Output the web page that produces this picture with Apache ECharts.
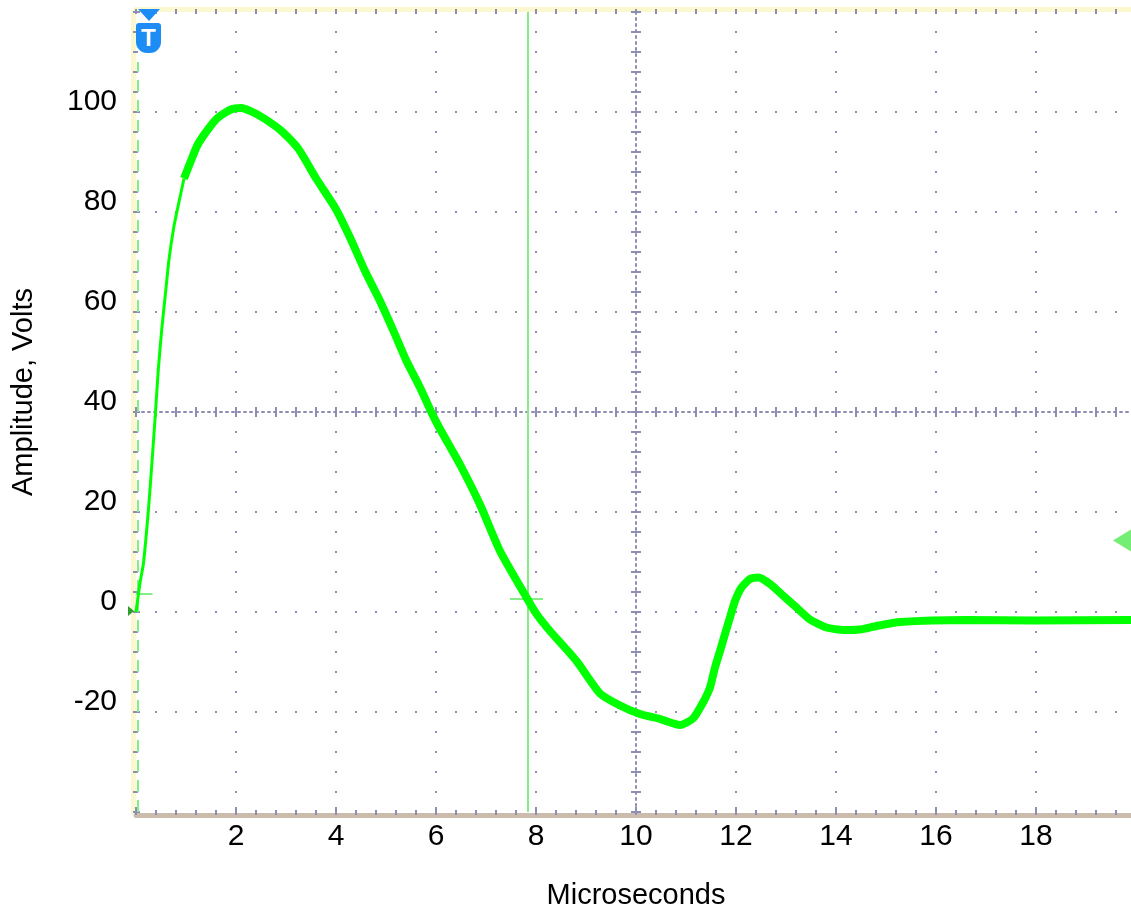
<!DOCTYPE html>
<html>
<head>
<meta charset="utf-8">
<title>Amplitude, Volts</title>
<script src="https://cdn.jsdelivr.net/npm/echarts@6/dist/echarts.min.js"></script>
<style>
    html, body { margin: 0; padding: 0; background: #fff; }
    #main { width: 1131px; height: 912px; }
</style>
</head>
<body>
<div id="main"></div>
<script>
// 上升沿（采样稀疏，线细）
var riseTime = [0, 0.08, 0.15, 0.25, 0.32, 0.39, 0.45, 0.52, 0.59, 0.66, 0.76, 0.86, 0.96];
var riseVolts = [0, 5.8, 9.8, 20.6, 30, 40, 49, 57, 63.8, 70.5, 77.2, 82, 86.7];

// 主波形
var traceTime = [0.96, 1.09, 1.23, 1.43, 1.63, 1.9, 2.1, 2.37, 2.64, 2.91, 3.25, 3.61, 3.98, 4.28,
    4.58, 4.88, 5.15, 5.41, 5.68, 5.91, 6.08, 6.48, 6.88, 7.28, 7.81, 8.01, 8.28, 8.81, 9.28, 9.68,
    10.08, 10.48, 10.88, 11.14, 11.34, 11.48, 11.58, 11.68, 11.78, 11.88, 11.98, 12.11, 12.28, 12.45,
    12.68, 12.95, 13.21, 13.48, 13.81, 14.15, 14.48, 14.81, 15.28, 16.61, 17.95, 19.88, 20];
var traceVolts = [86.7, 90, 93.4, 96.4, 98.8, 100.5, 100.8, 99.8, 98.2, 96.2, 92.6, 86.6, 80.9, 74.9,
    68.2, 62.2, 56.2, 50.2, 44.9, 39.9, 36.6, 29.5, 21.5, 12.2, 2.9, -0.4, -3.8, -9.8, -16.3, -18.7,
    -20.4, -21.4, -22.6, -21.3, -18.1, -15.1, -11.1, -7.8, -4.4, -1.1, 2.2, 4.9, 6.6, 6.9,
    5.6, 3.2, 0.9, -1.5, -3.1, -3.6, -3.5, -2.8, -2.0, -1.6, -1.7, -1.6, -1.6];

// 光标 / 触发 / 参考电平
var cursorTime = 7.84;
var cursorMarkLevel = 2.7;
var triggerTime = 0.03;
var triggerMarkLevel = 3.7;
var refLevel = 14.3;

// 刻度标签
var xTickLabels = [2, 4, 6, 8, 10, 12, 14, 16, 18];
var yTickLabels = [-20, 0, 20, 40, 60, 80, 100];

var dotColor = '#8e8eb4';
var traceColor = '#00ff00';
var cursorColor = '#86ec86';
var fontName = '"Liberation Sans", Arial, sans-serif';

function zip(xs, ys) {
    var out = [];
    xs.forEach(function (v, i) {
        out.push([v, ys[i]]);
    });
    return out;
}

/**
 * 点状网格线
 */
function dotted() {
    return { show: true, lineStyle: { color: dotColor, width: 2, type: [2, 18], dashOffset: 1 } };
}

/**
 * 中心十字线（密点+两侧刻度）
 */
function centerAxis(dim, inside, showLine) {
    var ax = {
        type: 'value',
        min: 0,
        max: dim == 'x' ? 50 : 40,
        interval: 1,
        position: dim == 'x' ? 'bottom' : 'left',
        offset: dim == 'x' ? -400 : -500,
        axisLine: { show: showLine, onZero: false, lineStyle: { color: dotColor, width: 2, type: [2, 4] } },
        axisTick: { show: true, inside: inside, length: 5, lineStyle: { color: dotColor, width: 2 } },
        axisLabel: { show: false },
        splitLine: { show: false },
        silent: true
    };
    return ax;
}

var dom = document.getElementById('main');
var myChart = echarts.init(dom, null, { renderer: 'canvas' });

var option = {
    animation: false,
    backgroundColor: '#fff',
    grid: {
        left: 136,
        top: 12,
        width: 1000,
        height: 800,
        outerBoundsMode: 'none',
        containLabel: false
    },
    xAxis: [
        {
            type: 'value',
            min: 0,
            max: 20,
            interval: 2,
            position: 'bottom',
            offset: 3,
            name: 'Microseconds',
            nameLocation: 'middle',
            nameGap: 66,
            nameTextStyle: { color: '#000', fontSize: 29, fontFamily: fontName },
            axisLine: { show: true, onZero: false, lineStyle: { color: '#cbbcad', width: 5 } },
            axisTick: { show: true, inside: true, length: 8, lineStyle: { color: dotColor, width: 2 } },
            minorTick: { show: true, splitNumber: 5, length: 5, lineStyle: { color: dotColor, width: 2 } },
            axisLabel: {
                color: '#000',
                fontSize: 30,
                fontFamily: fontName,
                margin: 7,
                formatter: function (v) {
                    return xTickLabels.indexOf(Math.round(v)) >= 0 && Math.abs(v - Math.round(v)) < 1e-6 ? String(Math.round(v)) : '';
                }
            },
            splitLine: dotted()
        },
        centerAxis('x', false, true),
        centerAxis('x', true, false),
        {
            // 顶边
            type: 'value',
            min: 0,
            max: 50,
            interval: 1,
            position: 'top',
            offset: 3,
            axisLine: { show: true, onZero: false, lineStyle: { color: '#fbf7cf', width: 5 } },
            axisTick: { show: true, inside: true, length: 5, lineStyle: { color: dotColor, width: 2 } },
            axisLabel: { show: false },
            splitLine: { show: false },
            silent: true
        }
    ],
    yAxis: [
        {
            type: 'value',
            min: -40,
            max: 120,
            interval: 20,
            position: 'left',
            offset: 3,
            name: 'Amplitude, Volts',
            nameLocation: 'middle',
            nameGap: 95,
            nameTextStyle: { color: '#000', fontSize: 29, fontFamily: fontName, padding: [0, 0, 0, 40] },
            axisLine: { show: true, onZero: false, lineStyle: { color: '#fbf7cf', width: 5 } },
            axisTick: { show: true, inside: true, length: 7, lineStyle: { color: dotColor, width: 2 } },
            minorTick: { show: true, splitNumber: 5, length: 5, lineStyle: { color: dotColor, width: 2 } },
            axisLabel: {
                color: '#000',
                fontSize: 30,
                fontFamily: fontName,
                margin: 16,
                verticalAlign: 'bottom',
                lineHeight: 20,
                formatter: function (v) {
                    return yTickLabels.indexOf(v) >= 0 ? String(v) : '';
                }
            },
            splitLine: dotted()
        },
        centerAxis('y', false, true),
        centerAxis('y', true, false)
    ],
    graphic: [
        // 触发标记 T
        { type: 'polygon', z: 100, shape: { points: [[138, 9], [160, 9], [149, 21]] }, style: { fill: '#1e8cf5' }, silent: true },
        { type: 'rect', z: 100, shape: { x: 136, y: 23, width: 25, height: 30, r: [3, 3, 11, 11] }, style: { fill: '#1e8cf5' }, silent: true },
        {
            type: 'text', z: 101, silent: true,
            style: { text: 'T', x: 148.5, y: 39, align: 'center', verticalAlign: 'middle', fill: '#fff', font: 'bold 24px "Liberation Sans", Arial' }
        },
        { type: 'polygon', z: 100, shape: { points: [[128, 606], [134, 611], [128, 616]] }, style: { fill: '#2e9e2e' }, silent: true }
    ],
    series: [
        {
            name: 'rise',
            type: 'line',
            data: zip(riseTime, riseVolts),
            showSymbol: false,
            smooth: 0.2,
            lineStyle: { color: traceColor, width: 3 },
            silent: true,
            z: 5
        },
        {
            name: 'trace',
            type: 'line',
            data: zip(traceTime, traceVolts),
            showSymbol: false,
            smooth: 0.2,
            lineStyle: { color: traceColor, width: 8 },
            silent: true,
            z: 5,
            markLine: {
                silent: true,
                symbol: ['none', 'none'],
                label: { show: false },
                data: [
                    [{ coord: [cursorTime, -40], lineStyle: { color: cursorColor, width: 2, type: 'solid' } }, { coord: [cursorTime, 120] }],
                    [{ coord: [cursorTime - 0.36, cursorMarkLevel], lineStyle: { color: cursorColor, width: 2, type: 'solid' } }, { coord: [cursorTime + 0.3, cursorMarkLevel] }],
                    [{ coord: [0, triggerMarkLevel], lineStyle: { color: cursorColor, width: 2, type: 'solid' } }, { coord: [0.33, triggerMarkLevel] }],
                    [{ coord: [triggerTime, -40], lineStyle: { color: cursorColor, width: 2, type: [12, 8] } }, { coord: [triggerTime, 110] }]
                ]
            },
            markPoint: {
                silent: true,
                symbol: 'triangle',
                symbolRotate: 90,
                symbolSize: [22, 18],
                itemStyle: { color: '#74ee74' },
                label: { show: false },
                data: [{ coord: [19.72, refLevel] }]
            }
        }
    ]
};
myChart.setOption(option, true);
</script>
</body>
</html>
